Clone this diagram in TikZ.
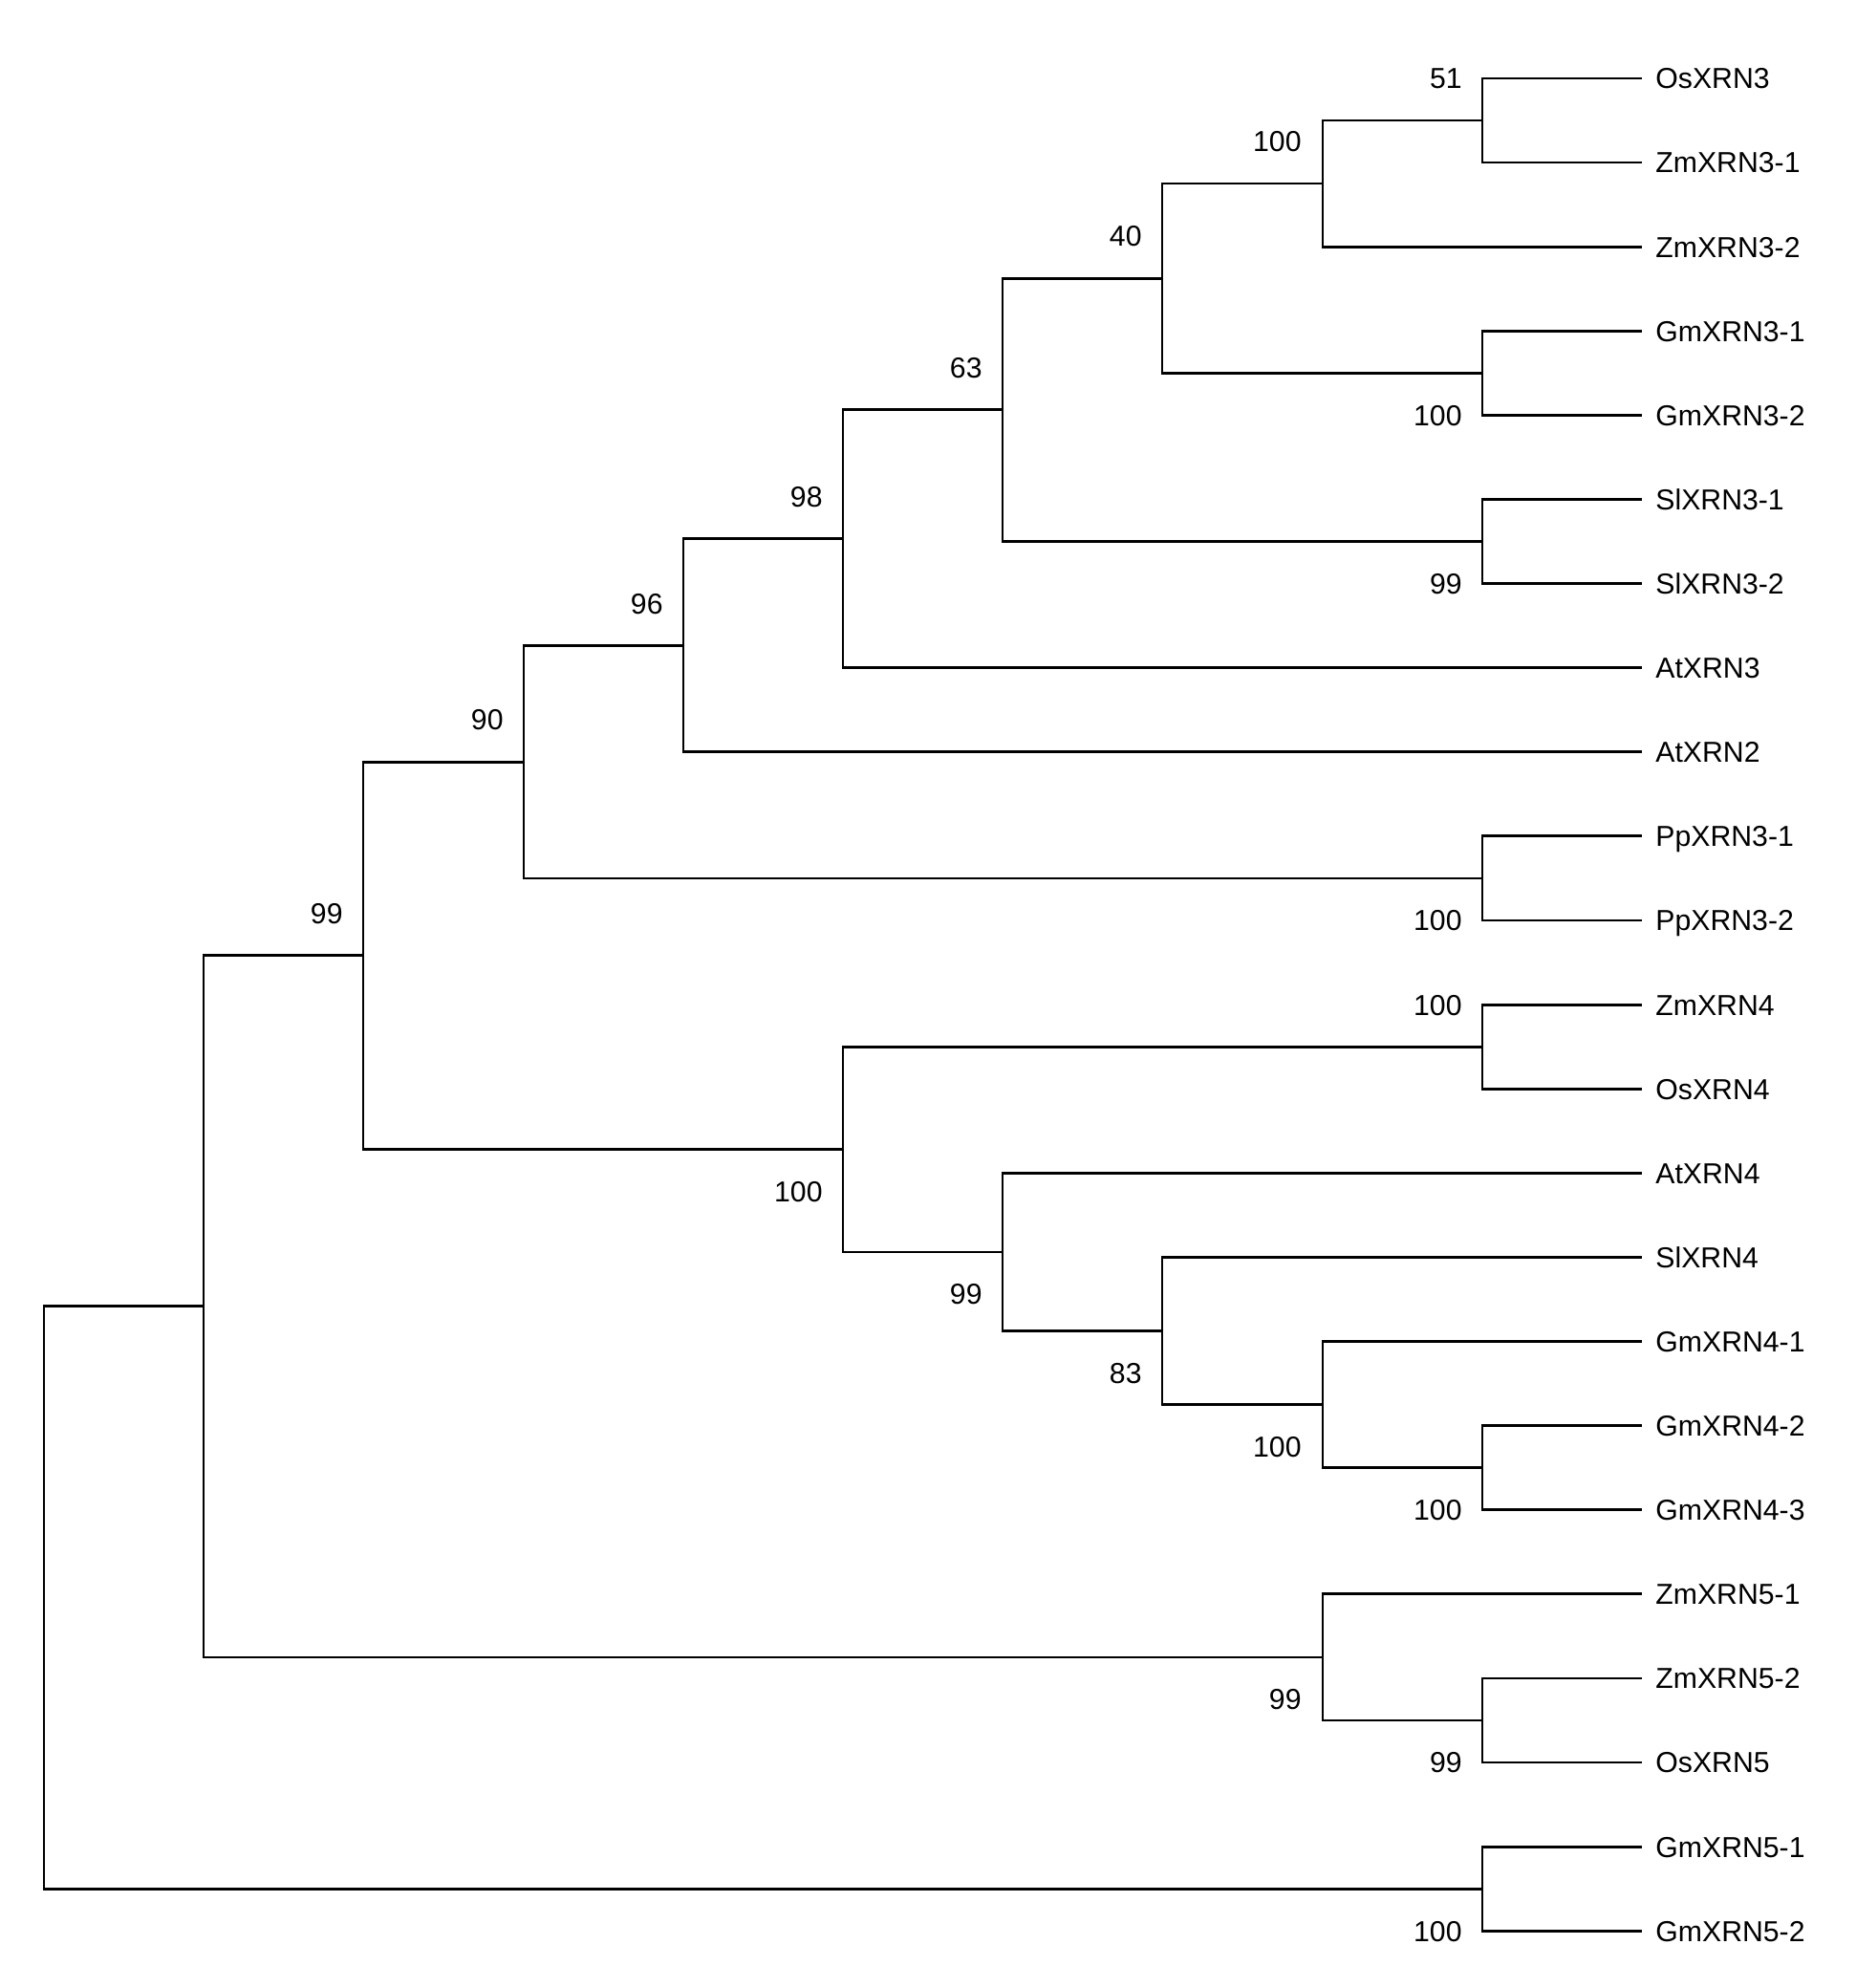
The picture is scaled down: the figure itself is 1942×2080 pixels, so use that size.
\documentclass[tikz,border=0pt]{standalone}
\usepackage{fontspec}
\setmainfont{Liberation Sans}
\newcommand{\treefont}{\fontsize{8.6}{10}\selectfont}

\begin{document}
\begin{tikzpicture}[x=0.1mm, y=-0.1mm, line width=0.8pt,
    leaf/.style={anchor=west, inner xsep=1.3mm, inner ysep=0pt, text height=6.2pt, text depth=0pt, font=\treefont},
    boot/.style={anchor=east, inner sep=0pt, text height=6.2pt, text depth=0pt, font=\treefont}]
  \useasboundingbox[fill=white] (0,0) rectangle (1942,2080);

  % Leaves
  \foreach \name/\txt [count=\i from 0] in {os3/OsXRN3, zm31/ZmXRN3-1, zm32/ZmXRN3-2,
      gm31/GmXRN3-1, gm32/GmXRN3-2, sl31/SlXRN3-1, sl32/SlXRN3-2, at3/AtXRN3, at2/AtXRN2,
      pp31/PpXRN3-1, pp32/PpXRN3-2, zm4/ZmXRN4, os4/OsXRN4, at4/AtXRN4, sl4/SlXRN4,
      gm41/GmXRN4-1, gm42/GmXRN4-2, gm43/GmXRN4-3, zm51/ZmXRN5-1, zm52/ZmXRN5-2,
      os5/OsXRN5, gm51/GmXRN5-1, gm52/GmXRN5-2}
    \node[leaf] (\name) at (1718, {82+88.1*\i}) {\txt};

  % Internal nodes
  \coordinate (n51)   at (1551, 126.1);
  \coordinate (n100a) at (1384, 192.1);
  \coordinate (nGm3)  at (1551, 390.4);
  \coordinate (n40)   at (1216, 291.2);
  \coordinate (nSl3)  at (1551, 566.6);
  \coordinate (n63)   at (1049, 428.9);
  \coordinate (n98)   at (882, 563.8);
  \coordinate (n96)   at (715, 675.3);
  \coordinate (nPp)   at (1551, 919.0);
  \coordinate (n90)   at (548, 797.1);
  \coordinate (nZO4)  at (1551, 1095.2);
  \coordinate (nGm4)  at (1551, 1535.7);
  \coordinate (n100c) at (1384, 1469.6);
  \coordinate (n83)   at (1216, 1392.5);
  \coordinate (n99b)  at (1049, 1309.9);
  \coordinate (n100b) at (882, 1202.5);
  \coordinate (n99a)  at (380, 999.8);
  \coordinate (nZO5)  at (1551, 1800.0);
  \coordinate (n99c)  at (1384, 1733.9);
  \coordinate (n1)    at (213, 1366.8);
  \coordinate (nGm5)  at (1551, 1976.2);
  \coordinate (root)  at (46, 1671.5);

  % Branches
  \foreach \p/\c in {n51/os3.west, n51/zm31.west, n100a/n51, n100a/zm32.west,
      nGm3/gm31.west, nGm3/gm32.west, n40/n100a, n40/nGm3,
      nSl3/sl31.west, nSl3/sl32.west, n63/n40, n63/nSl3,
      n98/n63, n98/at3.west, n96/n98, n96/at2.west,
      nPp/pp31.west, nPp/pp32.west, n90/n96, n90/nPp,
      nZO4/zm4.west, nZO4/os4.west, nGm4/gm42.west, nGm4/gm43.west,
      n100c/gm41.west, n100c/nGm4, n83/sl4.west, n83/n100c,
      n99b/at4.west, n99b/n83, n100b/nZO4, n100b/n99b,
      n99a/n90, n99a/n100b, nZO5/zm52.west, nZO5/os5.west,
      n99c/zm51.west, n99c/nZO5, n1/n99a, n1/n99c,
      nGm5/gm51.west, nGm5/gm52.west, root/n1, root/nGm5}
    \draw (\p) |- (\c);

  % Bootstrap values
  \node[boot] (b51)   at (1531, 82.0)   {51};
  \node[boot] (b100a) at (1363, 148.0)  {100};
  \node[boot] (bGm3)  at (1531, 434.4)  {100};
  \node[boot] (b40)   at (1196, 247.1)  {40};
  \node[boot] (bSl3)  at (1531, 610.6)  {99};
  \node[boot] (b63)   at (1029, 384.9)  {63};
  \node[boot] (b98)   at (862, 519.8)   {98};
  \node[boot] (b96)   at (695, 631.3)   {96};
  \node[boot] (b90)   at (528, 753.0)   {90};
  \node[boot] (b99a)  at (360, 955.8)   {99};
  \node[boot] (bPp)   at (1531, 963.0)  {100};
  \node[boot] (bZO4)  at (1531, 1051.1) {100};
  \node[boot] (b100b) at (862, 1246.5)  {100};
  \node[boot] (b99b)  at (1029, 1353.9) {99};
  \node[boot] (b83)   at (1196, 1436.5) {83};
  \node[boot] (b100c) at (1363, 1513.6) {100};
  \node[boot] (bGm4)  at (1531, 1579.7) {100};
  \node[boot] (b99c)  at (1363, 1777.9) {99};
  \node[boot] (bZO5)  at (1531, 1844.0) {99};
  \node[boot] (bGm5)  at (1531, 2020.2) {100};
\end{tikzpicture}
\end{document}
